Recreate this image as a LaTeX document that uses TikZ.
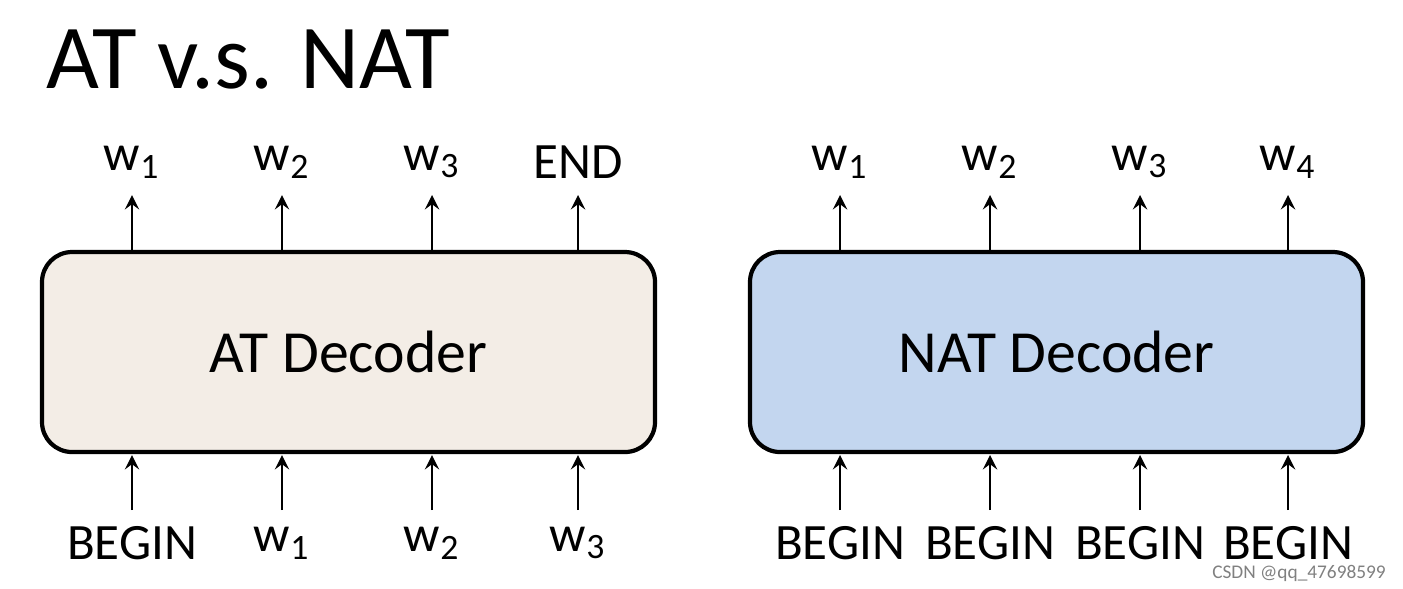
\documentclass[tikz,border=0pt]{standalone}
\usepackage{fontspec}
\setmainfont{Carlito}
\usetikzlibrary{positioning}
\definecolor{atfill}{HTML}{F3EDE6}
\definecolor{natfill}{HTML}{C3D6EF}
\newcommand{\wsub}[1]{w\textsubscript{#1}}
\tikzset{
	decoder/.style={draw,line width=1.2pt,rounded corners=0.3cm,minimum width=6.13cm,minimum height=2cm,font=\fontsize{17}{19}\selectfont},
	tok/.style={font=\fontsize{14.5}{16}\selectfont,inner sep=0pt},
	io/.style={->,line width=0.8pt,>=stealth}
}
\begin{document}
\begin{tikzpicture}
	\useasboundingbox (0,0) rectangle (14.03,-5.88);
	\node[anchor=base west,inner sep=0pt,font=\fontsize{26}{28}\selectfont] (title) at (0.46,-0.88) {AT v.s. NAT};
	% decoders
	\node[decoder,fill=atfill] (at) at (3.485,-3.52) {AT Decoder};
	\node[decoder,fill=natfill] (nat) at (10.565,-3.52) {NAT Decoder};
	% AT inputs and outputs
	\foreach \x/\o/\i [count=\n] in {1.32/\wsub{1}/BEGIN,2.82/\wsub{2}/\wsub{1},4.32/\wsub{3}/\wsub{2},5.78/END/\wsub{3}}{
		\node[tok] (ato\n) at (\x,-1.62) {\o};
		\node[tok] (ati\n) at (\x,-5.43) {\i};
		\draw[io] (\x,-2.51) -- (\x,-1.95);
		\draw[io] (\x,-5.1) -- (\x,-4.55);
	}
	% NAT inputs and outputs
	\foreach \x/\o [count=\n] in {8.40/\wsub{1},9.90/\wsub{2},11.40/\wsub{3},12.88/\wsub{4}}{
		\node[tok] (nato\n) at (\x,-1.62) {\o};
		\node[tok] (nati\n) at (\x,-5.43) {BEGIN};
		\draw[io] (\x,-2.51) -- (\x,-1.95);
		\draw[io] (\x,-5.1) -- (\x,-4.55);
	}
	\node[anchor=south east,inner sep=1pt,font=\fontsize{5.5}{6}\selectfont,text=gray] (mark) at (13.9,-5.86) {CSDN @qq\_47698599};
\end{tikzpicture}
\end{document}
